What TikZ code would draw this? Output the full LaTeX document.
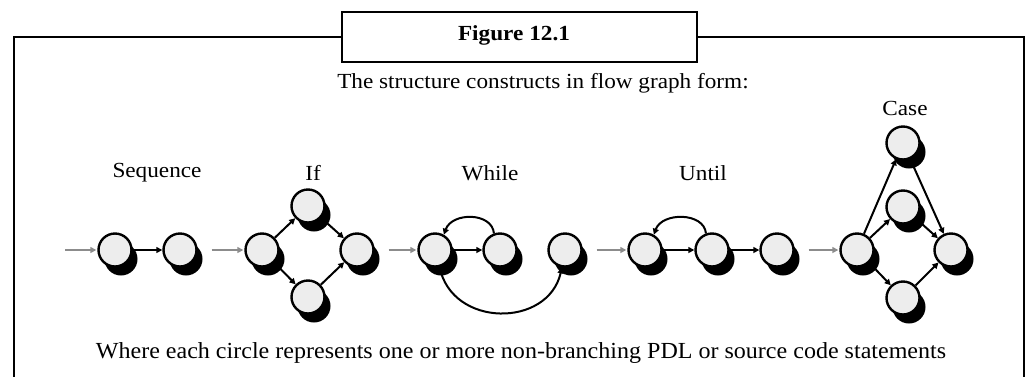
\documentclass[tikz,border=0pt]{standalone}
\usepackage{fontspec}
\setmainfont{Liberation Serif}[FakeStretch=1.08]
\newfontfamily\footfont{Liberation Serif}[FakeStretch=1.045]
\usetikzlibrary{arrows.meta,shadows}
\definecolor{stmtfill}{HTML}{EDEDED}
\definecolor{feedgray}{HTML}{8C8C8C}
\begin{document}
\begin{tikzpicture}[x=1pt,y=-1pt,
  stmt/.style={circle,draw=black,line width=2.4pt,fill=stmtfill,minimum size=33pt,inner sep=0pt,
     drop shadow={shadow xshift=6pt,shadow yshift=-9pt,opacity=1,fill=black}},
  flow/.style={line width=2pt,-{Triangle[length=6pt,width=6pt]}},
  feed/.style={draw=feedgray,line width=2.5pt,-{Triangle[length=6pt,width=6pt]},shorten <=14pt,shorten >=1pt},
  lbl/.style={font=\fontsize{21.5}{24}\selectfont,inner sep=0pt},
  frameline/.style={line width=2.3pt}]
\useasboundingbox (0,0) rectangle (1030,376);
% frame and title
\node[draw,line width=2.3pt,minimum width=355pt,minimum height=50pt,inner sep=0pt] (title) at (519.5,37) {};
\node[font=\fontsize{21.5}{24}\selectfont\bfseries,inner sep=0pt] (ttl) at (514,35) {Figure\hspace{6pt}12.1};
\draw[frameline] (title.west) -- (14,37) -- (14,378);
\draw[frameline] (title.east) -- (1024,37) -- (1024,378);
% texts
\node[lbl] (head) at (543,83) {The structure constructs in flow graph form:};
\node[lbl] (lseq) at (157,173) {Sequence};
\node[lbl] (lif) at (313,173) {If};
\node[lbl] (lwhile) at (490,173) {While};
\node[lbl] (luntil) at (703,173) {Until};
\node[lbl] (lcase) at (905,108) {Case};
\node[inner sep=0pt,font=\footfont\fontsize{23}{26}\selectfont] (foot) at (521,353) {Where each circle represents one or more non-branching PDL or source code statements};
% circles
\node[stmt] (s1) at (115,250) {};
\node[stmt] (s2) at (180,250) {};
\node[stmt] (i1) at (262,250) {};
\node[stmt] (i2) at (308,206) {};
\node[stmt] (i3) at (357,250) {};
\node[stmt] (i4) at (308,297) {};
\node[stmt] (w1) at (435,250) {};
\node[stmt] (w2) at (500,250) {};
\node[stmt] (w3) at (565,250) {};
\node[stmt] (u1) at (645,250) {};
\node[stmt] (u2) at (712,250) {};
\node[stmt] (u3) at (777,250) {};
\node[stmt] (c1) at (857,250) {};
\node[stmt] (c2) at (903,143) {};
\node[stmt] (c3) at (903,207) {};
\node[stmt] (c4) at (951,250) {};
\node[stmt] (c5) at (903,298) {};
% feed arrows
\coordinate (start) at (65,250);
\draw[feed,shorten <=0pt] (start) -- (s1);
\draw[feed] (s2) -- (i1);
\draw[feed] (i3) -- (w1);
\draw[feed] (w3) -- (u1);
\draw[feed] (u3) -- (c1);
% sequence
\draw[flow] (s1) -- (s2);
% if
\draw[flow] (i1) -- (i2);
\draw[flow] (i2) -- (i3);
\draw[flow] (i1) -- (i4);
\draw[flow] (i4) -- (i3);
% while
\draw[flow] (w1) -- (w2);
\draw[flow] (w2.110) .. controls (492,212) and (452,212) .. (w1.60);
\draw[flow] (w1.-75) .. controls (452,328) and (548,328) .. (w3.-100);
% until
\draw[flow] (u1) -- (u2);
\draw[flow] (u2) -- (u3);
\draw[flow] (u2.110) .. controls (704,212) and (662,212) .. (u1.60);
% case
\draw[flow] (c1) -- (c2);
\draw[flow] (c2) -- (c4);
\draw[flow] (c1) -- (c3);
\draw[flow] (c3) -- (c4);
\draw[flow] (c1) -- (c5);
\draw[flow] (c5) -- (c4);
\end{tikzpicture}
\end{document}
